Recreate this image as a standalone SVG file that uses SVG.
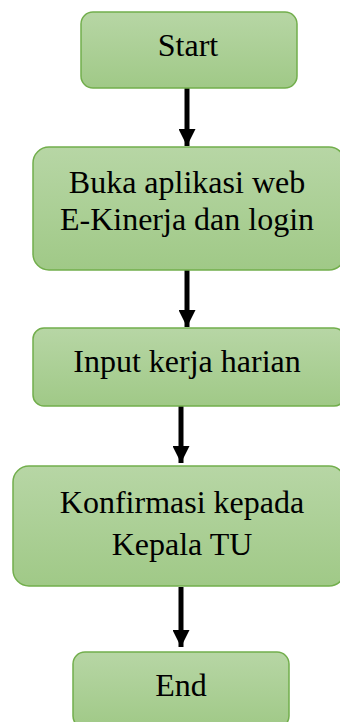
<svg xmlns="http://www.w3.org/2000/svg" width="340" height="722" viewBox="0 0 340 722">
<style>
.box{fill:url(#g);stroke:#72ae4c;stroke-width:1.5}
.t{font-family:"Liberation Serif","Times New Roman",serif;font-size:32px;fill:#000;text-anchor:middle}
.c{stroke:#000;stroke-width:5;fill:none}
</style>
<defs>
<linearGradient id="g" x1="0" y1="0" x2="0" y2="1">
<stop offset="0" stop-color="#b7d6a5"/>
<stop offset="1" stop-color="#a0c987"/>
</linearGradient>
<marker id="a" viewBox="0 0 10 10" refX="10" refY="5" markerWidth="3.4" markerHeight="3.4" orient="auto" markerUnits="strokeWidth">
<path d="M0,0 L10,5 L0,10 Z" fill="#000"/>
</marker>
</defs>
<g id="connectors">
<line class="c" x1="187" y1="88" x2="187" y2="146" marker-end="url(#a)"/>
<line class="c" x1="187" y1="270" x2="187" y2="327" marker-end="url(#a)"/>
<line class="c" x1="181" y1="406" x2="181" y2="463" marker-end="url(#a)"/>
<line class="c" x1="181" y1="587" x2="181" y2="647" marker-end="url(#a)"/>
</g>
<g id="start">
<rect class="box" x="81" y="12" width="216" height="76" rx="12"/>
<text class="t" x="188" y="56">Start</text>
</g>
<g id="buka">
<rect class="box" x="33" y="147" width="312" height="123" rx="16"/>
<text class="t" x="187" y="193">Buka aplikasi web</text>
<text class="t" x="187" y="230">E-Kinerja dan login</text>
</g>
<g id="input">
<rect class="box" x="33" y="328" width="312" height="78" rx="11"/>
<text class="t" x="187" y="372">Input kerja harian</text>
</g>
<g id="konfirmasi">
<rect class="box" x="13" y="466" width="332" height="120" rx="16"/>
<text class="t" x="182" y="513">Konfirmasi kepada</text>
<text class="t" x="182" y="555">Kepala TU</text>
</g>
<g id="end">
<rect class="box" x="73" y="652" width="216" height="76" rx="12"/>
<text class="t" x="181" y="696">End</text>
</g>
</svg>
